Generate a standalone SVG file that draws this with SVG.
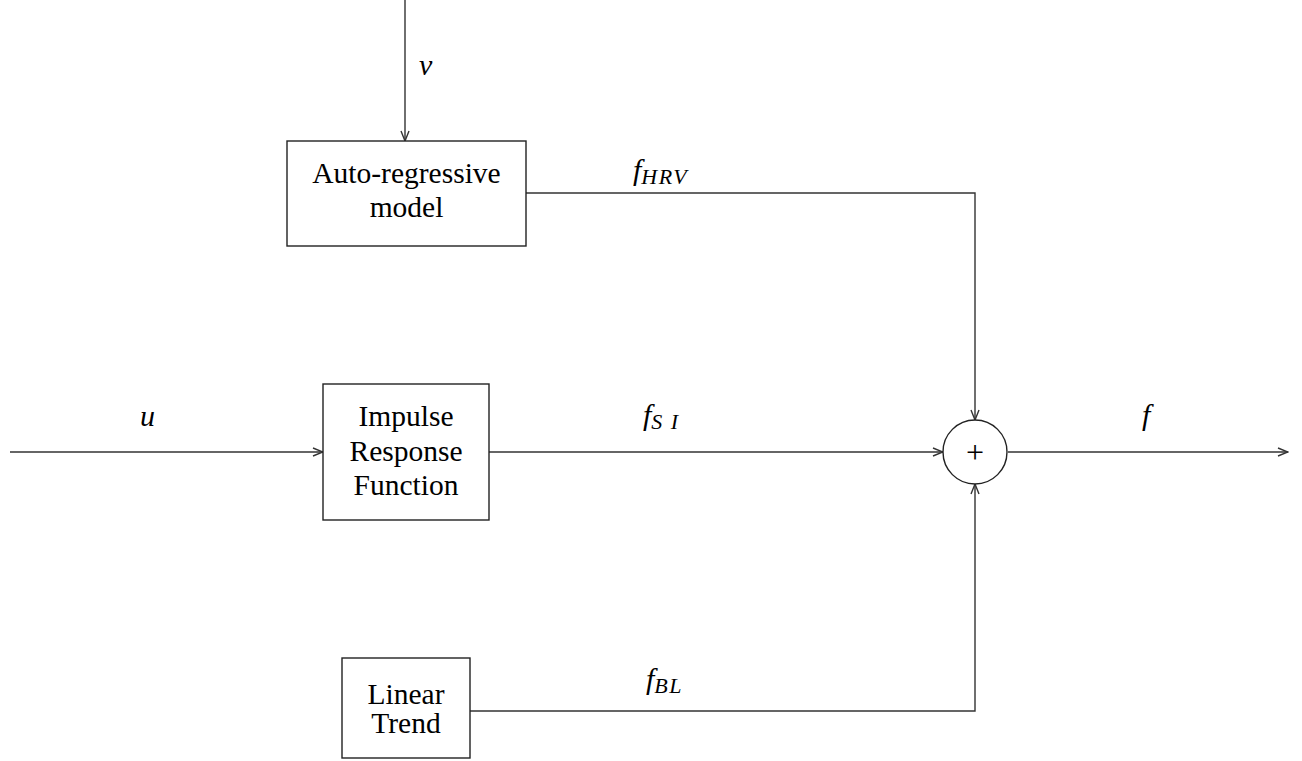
<svg xmlns="http://www.w3.org/2000/svg" width="1302" height="761" viewBox="0 0 1302 761">
<style>
.box{fill:#fff;stroke:#222;stroke-width:1.4}
.ln{fill:none;stroke:#333;stroke-width:1.4}
.t{font-family:"Liberation Serif",serif;font-size:29.5px;fill:#000;text-anchor:middle}
.m{font-family:"Liberation Serif",serif;font-size:30px;font-style:italic;fill:#000}
.s{font-size:22px;letter-spacing:1.5px}
</style>
<defs>
<marker id="arr" markerWidth="12" markerHeight="10" refX="11" refY="5" orient="auto" markerUnits="userSpaceOnUse">
<path d="M1,1 L11,5 L1,9" fill="none" stroke="#333" stroke-width="1.4"/>
</marker>
</defs>
<g id="connectors">
<line class="ln" x1="405" y1="0" x2="405" y2="141" marker-end="url(#arr)"/>
<polyline class="ln" points="526,193 975,193 975,420" marker-end="url(#arr)"/>
<line class="ln" x1="10" y1="452" x2="323" y2="452" marker-end="url(#arr)"/>
<line class="ln" x1="489" y1="452" x2="943" y2="452" marker-end="url(#arr)"/>
<polyline class="ln" points="470,711 975,711 975,484" marker-end="url(#arr)"/>
<line class="ln" x1="1008" y1="452" x2="1288" y2="452" marker-end="url(#arr)"/>
<text class="m" x="419" y="75">v</text>
<text class="m" x="140" y="426">u</text>
<text class="m" x="1142" y="425">f</text>
<text class="m" x="633" y="180">f<tspan class="s" dy="4">HRV</tspan></text>
<text class="m" x="643" y="425">f<tspan class="s" dy="4">S I</tspan></text>
<text class="m" x="646" y="689">f<tspan class="s" dy="4">BL</tspan></text>
</g>
<g id="ar">
<rect class="box" x="287" y="141" width="239" height="105"/>
<text class="t" x="406.5" y="183">Auto-regressive</text>
<text class="t" x="406.5" y="217">model</text>
</g>
<g id="irf">
<rect class="box" x="323" y="384" width="166" height="136"/>
<text class="t" x="406" y="426">Impulse</text>
<text class="t" x="406" y="461">Response</text>
<text class="t" x="406" y="495">Function</text>
</g>
<g id="lt">
<rect class="box" x="342" y="658" width="128" height="100"/>
<text class="t" x="406" y="704">Linear</text>
<text class="t" x="406" y="733">Trend</text>
</g>
<g id="sum">
<circle cx="975" cy="452" r="32" fill="#fff" stroke="#222" stroke-width="1.4"/>
<text class="t" x="975" y="463" style="font-size:32px">+</text>
</g>
</svg>
